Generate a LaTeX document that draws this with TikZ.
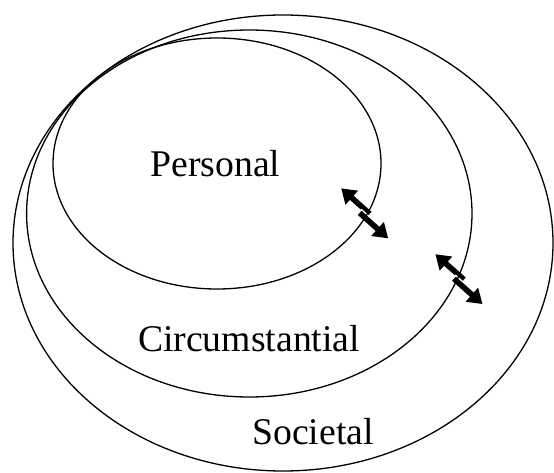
\documentclass[tikz,border=0pt]{standalone}
\usepackage{fontspec}
\setmainfont{Liberation Serif}
\tikzset{
  ring/.style={draw=black, line width=1.3pt},
  lbl/.style={anchor=base, inner sep=0pt, font=\fontsize{37.7}{40}\selectfont},
  headfill/.style={fill=black, draw=none},
  gapfill/.style={fill=white, draw=none}
}
% half arrows in local coordinates: A points to -x (upper left), B to +x (lower right)
\newcommand{\twinarrow}{%
  \fill[headfill] (-34,3) -- (-20,12.5) -- (-20,5.8) -- (4,5.8) -- (4,0.2) -- (-20,0.2) -- (-20,-6.5) -- cycle;
  \fill[gapfill] (-5.5,-7.5) rectangle (20,1.3);
  \fill[headfill] (34,-3) -- (20,-12.5) -- (20,-5.8) -- (-4,-5.8) -- (-4,-0.2) -- (20,-0.2) -- (20,6.5) -- cycle;
}
\begin{document}
\begin{tikzpicture}[x=1pt,y=1pt]
\useasboundingbox (0,0) rectangle (554,472);
\fill[white] (0,0) rectangle (554,472);
% double arrows (drawn first, rings on top)
\begin{scope}[shift={(364.65,258.65)}, rotate=-41.8]
  \twinarrow
\end{scope}
\begin{scope}[shift={(458.9,192.85)}, rotate=-41.6]
  \twinarrow
\end{scope}
% rings
\draw[ring] (283,229) ellipse [x radius=270, y radius=228];
\draw[ring] (249.3,258.5) ellipse [x radius=222.7, y radius=183.5];
\draw[ring] (217,308.5) ellipse [x radius=164, y radius=125.5];
% labels
\node[lbl] (personal) at (215.5,295) {Personal};
\node[lbl] (circ) at (249,121) {Circumstantial};
\node[lbl] (soc) at (313,28) {Societal};
\end{tikzpicture}
\end{document}
